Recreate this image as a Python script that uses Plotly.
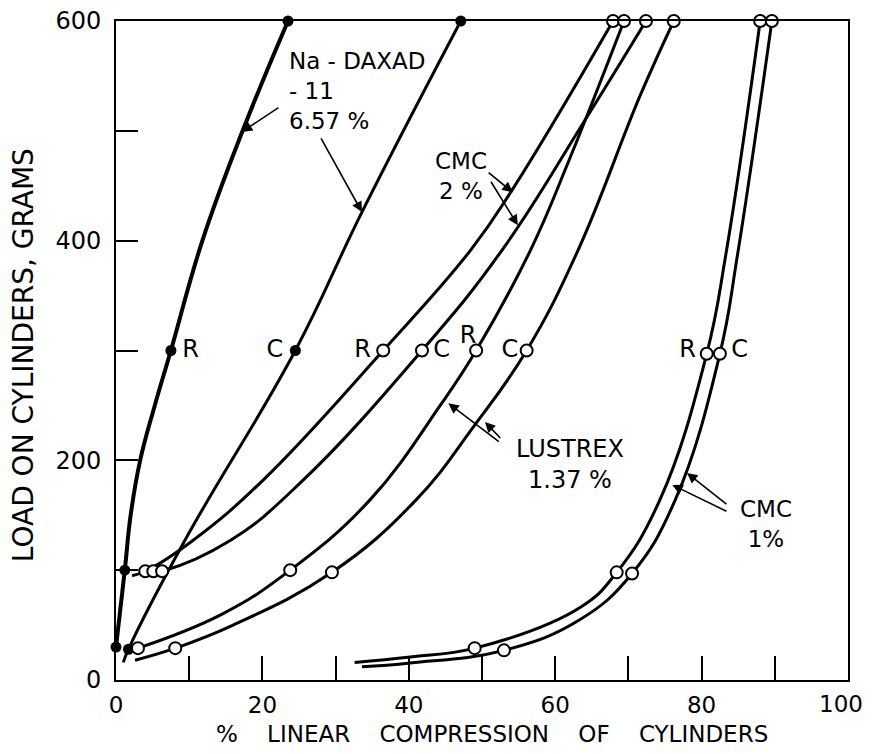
import plotly.graph_objects as go

# ---------------- data ----------------
# Curve paths (x = % linear compression, y = load in grams)
naR_x = [0.0, 1.2, 2.0, 3.3, 5.3, 7.5, 11.8, 17.3, 23.5]
naR_y = [30, 100, 150, 200, 250, 300, 400, 500, 600]
naC_x = [1.0, 1.7, 9.4, 24.5, 33.6, 47.1]
naC_y = [16, 28, 127, 300, 426, 600]
cmc2R_x = [2.2, 4.0, 10.5, 20.1, 36.5, 48.4, 54.1, 67.9]
cmc2R_y = [95, 99, 127, 182, 300, 391, 446, 600]
cmc2C_x = [5.0, 6.3, 15.6, 25.1, 41.8, 52.7, 64.0, 72.4]
cmc2C_y = [98, 99, 127, 179, 300, 391, 509, 600]
lusR_x = [3.0, 14.5, 23.8, 34.7, 44.5, 49.2, 56.6, 62.0, 69.4]
lusR_y = [29, 60, 100, 164, 252, 300, 391, 475, 600]
lusC_x = [2.6, 8.1, 16.0, 29.5, 41.0, 49.0, 56.1, 63.1, 71.6, 76.2]
lusC_y = [18, 29, 50, 98, 164, 232, 300, 391, 532, 600]
cmc1R_x = [32.6, 40.2, 49.0, 63.4, 68.4, 74.3, 80.7, 83.3, 88.0]
cmc1R_y = [16, 21, 29, 66, 98, 164, 297, 387, 600]
cmc1C_x = [33.6, 40.2, 53.0, 63.4, 70.5, 76.4, 82.5, 84.9, 89.6]
cmc1C_y = [12, 15.5, 27, 55, 97, 164, 297, 387, 600]

# Measured points (markers)
naR_px = [0.0, 1.2, 7.5, 23.5]
naR_py = [30, 100, 300, 600]
naC_px = [1.7, 24.5, 47.1]
naC_py = [28, 300, 600]
open_px = [4.0, 5.1, 6.3, 36.5, 41.8, 67.9, 72.4,
           3.0, 23.8, 49.2, 69.4, 8.1, 29.5, 56.1, 76.2,
           49.0, 68.4, 80.7, 88.0, 53.0, 70.5, 82.5, 89.6]
open_py = [99, 99, 99, 300, 300, 600, 600,
           29, 100, 300, 600, 29, 98, 300, 600,
           29, 98, 297, 600, 27, 97, 297, 600]

# Point labels near the 300 g points
rc_text = ["R", "C", "R", "C", "R", "C", "R", "C"]
rc_x = [10.2, 21.7, 33.7, 44.5, 48.1, 53.8, 78.1, 85.2]
rc_y = [300, 300, 300, 300, 312, 300, 300, 300]

x_ticks = [0, 10, 20, 30, 40, 50, 60, 70, 80, 90, 100]
x_ticktext = ["0", "", "20", "", "40", "", "60", "", "80", "", "100"]
y_ticks = [0, 100, 200, 300, 400, 500, 600]
y_ticktext = ["0", "", "200", "", "400", "", "600"]

FONT = "DejaVu Sans"

fig = go.Figure()

def curve(xs, ys, w=3):
    fig.add_trace(go.Scatter(x=xs, y=ys, mode="lines",
                             line=dict(color="black", width=w, shape="spline", smoothing=1.2),
                             hoverinfo="skip", showlegend=False, cliponaxis=False))

curve(naR_x, naR_y, 4)
curve(naC_x, naC_y, 3)
curve(cmc2R_x, cmc2R_y)
curve(cmc2C_x, cmc2C_y)
curve(lusR_x, lusR_y)
curve(lusC_x, lusC_y)
curve(cmc1R_x, cmc1R_y)
curve(cmc1C_x, cmc1C_y)

fig.add_trace(go.Scatter(x=naR_px + naC_px, y=naR_py + naC_py, mode="markers",
                         marker=dict(color="black", size=11, line=dict(width=0)),
                         showlegend=False, cliponaxis=False))
fig.add_trace(go.Scatter(x=open_px, y=open_py, mode="markers",
                         marker=dict(color="white", size=12, line=dict(color="black", width=2)),
                         showlegend=False, cliponaxis=False))
fig.add_trace(go.Scatter(x=rc_x, y=rc_y, mode="text", text=rc_text,
                         textfont=dict(family=FONT, size=24, color="black"),
                         showlegend=False, cliponaxis=False))

ann = []
def label(txt, x, y, anchor="center", align="center", size=23):
    ann.append(dict(x=x, y=y, xref="x", yref="y", text=txt, showarrow=False,
                    xanchor=anchor, yanchor="middle", align=align,
                    font=dict(family=FONT, size=size, color="black")))

label("Na - DAXAD<br>- 11<br>6.57 %", 23.3, 536, "left", "left")
label("CMC<br>2 %", 47.1, 459)
label("LUSTREX<br>1.37 %", 62.0, 196, size=24)
label("CMC<br>1%", 88.8, 142)

def arrow(tx, ty, hx, hy):
    ann.append(dict(x=hx, y=hy, ax=tx, ay=ty, xref="x", yref="y", axref="x", ayref="y",
                    text="", showarrow=True, arrowhead=2, arrowsize=1.3, arrowwidth=1.6,
                    arrowcolor="black", standoff=0))

arrow(22.4, 522, 17.2, 499)
arrow(27.9, 494.5, 33.6, 426)
arrow(50.7, 463, 54.2, 444)
arrow(51.1, 455, 54.9, 414)
arrow(52.5, 216, 45.4, 252)
arrow(52.7, 219, 50.4, 235)
arrow(83.6, 159, 78.0, 188.5)
arrow(83.6, 153, 76.0, 177.6)

# last x tick label drawn as an annotation so it stays inside the page edge
ann.append(dict(x=x_ticks[-1], y=0, xref="x", yref="paper", text=x_ticktext[-1],
                showarrow=False, xanchor="right", yanchor="top", xshift=17, yshift=-9,
                font=dict(family=FONT, size=23, color="black")))
axis_ticktext = x_ticktext[:-1] + [""]

# axis titles
ann.append(dict(x=0.514, y=-0.082, xref="paper", yref="paper",
                text="%    LINEAR    COMPRESSION    OF    CYLINDERS", showarrow=False,
                xanchor="center", yanchor="middle",
                font=dict(family=FONT, size=23, color="black")))
ann.append(dict(x=-0.127, y=0.493, xref="paper", yref="paper",
                text="LOAD ON CYLINDERS, GRAMS", showarrow=False, textangle=-90,
                xanchor="center", yanchor="middle",
                font=dict(family=FONT, size=28, color="black")))

# the page body adds an 8 px margin on every side, so the figure is 16 px
# smaller than the window (avoids scrollbars)
fig.update_layout(
    width=858, height=738,
    margin=dict(l=108, r=18, t=13, b=66),
    paper_bgcolor="white", plot_bgcolor="white",
    annotations=ann,
    showlegend=False,
)
fig.update_xaxes(range=[0, 100], tickvals=x_ticks, ticktext=axis_ticktext,
                 ticks="inside", ticklen=24, tickwidth=2, tickcolor="black",
                 showline=True, linecolor="black", linewidth=2, mirror=True,
                 showgrid=False, zeroline=False, ticklabelstandoff=3, automargin=False,
                 ticklabeloverflow="allow",
                 tickfont=dict(family=FONT, size=23, color="black"))
fig.update_yaxes(range=[0, 600], tickvals=y_ticks, ticktext=y_ticktext,
                 ticks="inside", ticklen=22, tickwidth=2, tickcolor="black",
                 showline=True, linecolor="black", linewidth=2, mirror=True,
                 showgrid=False, zeroline=False, ticklabelstandoff=8, automargin=False,
                 ticklabeloverflow="allow",
                 tickfont=dict(family=FONT, size=24, color="black"))

fig.write_html("out.html")
